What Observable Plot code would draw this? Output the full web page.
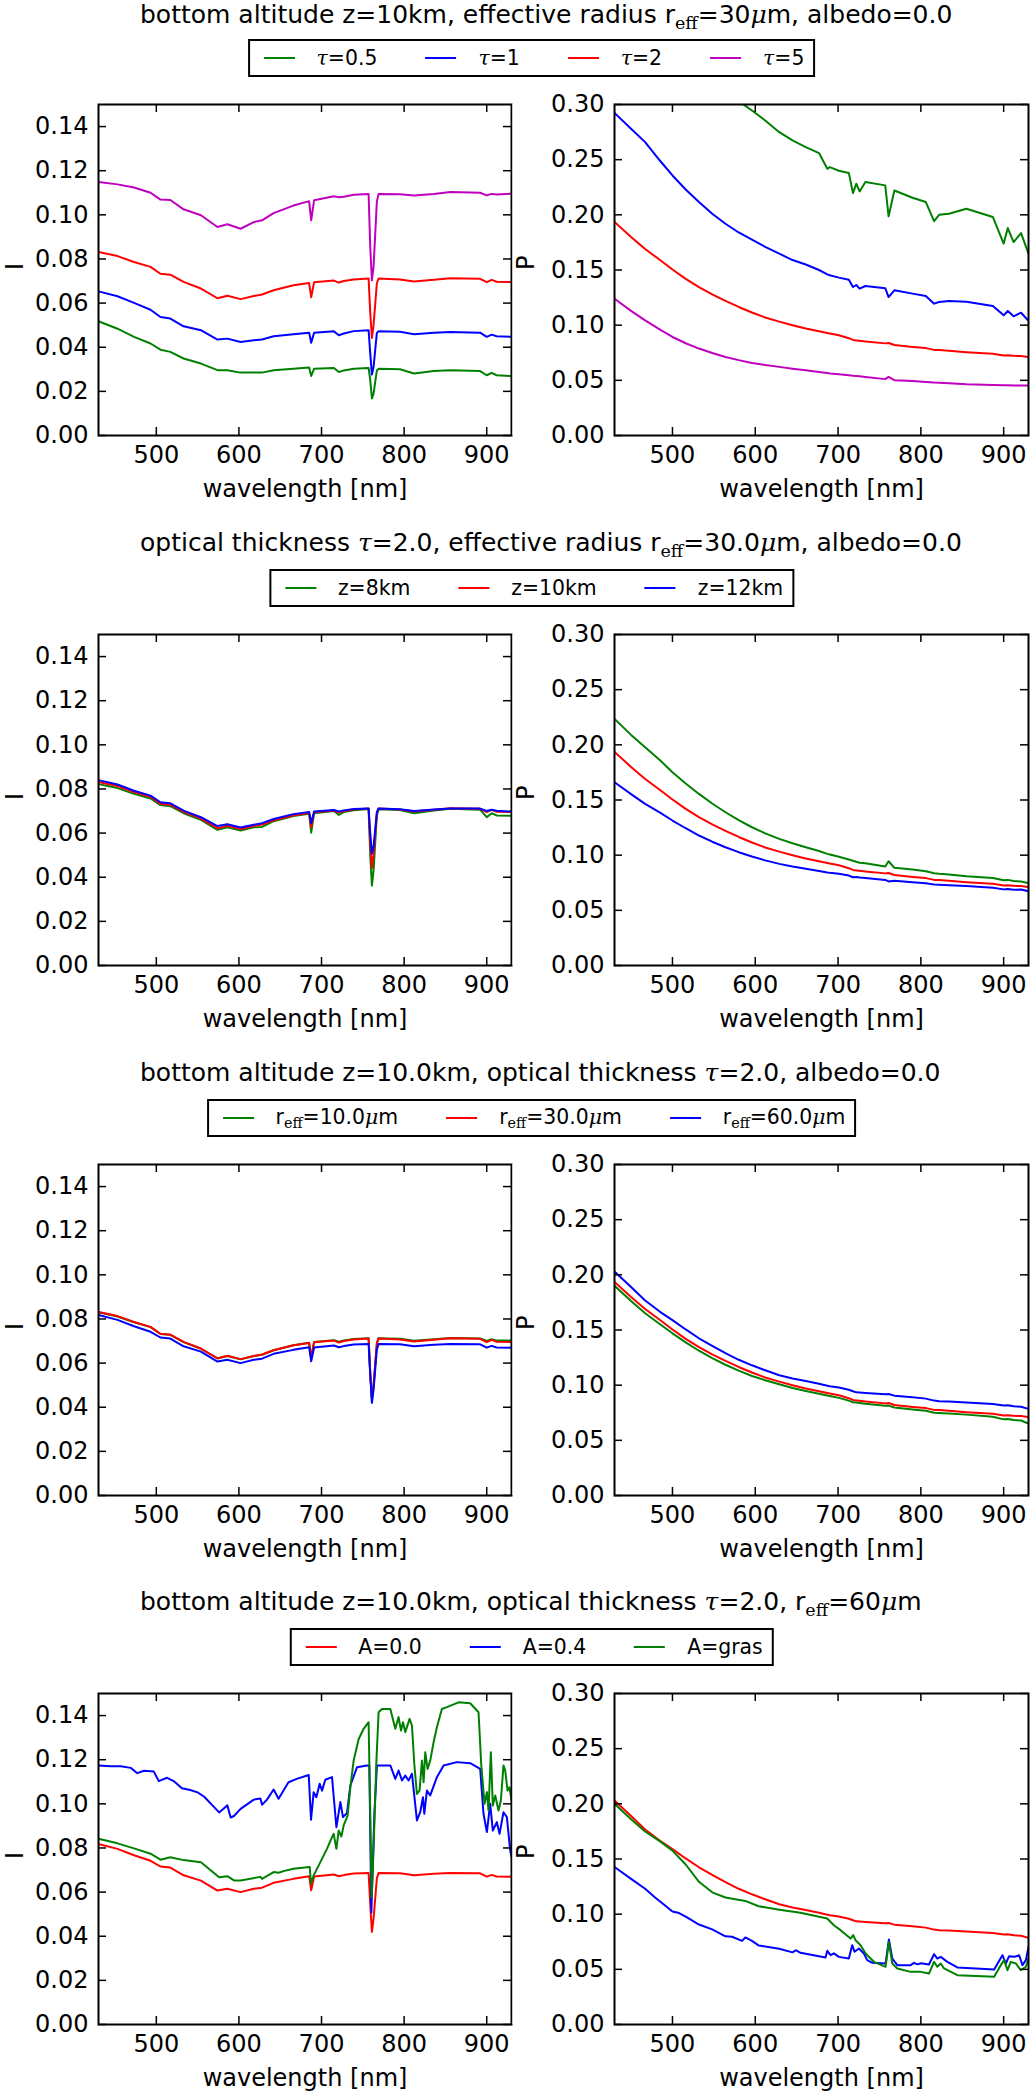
<!DOCTYPE html>
<html>
<head>
<meta charset="utf-8">
<script src="https://cdn.jsdelivr.net/npm/d3@7"></script>
<script src="https://cdn.jsdelivr.net/npm/@observablehq/plot@0.6"></script>
<style>
  html, body { margin: 0; padding: 0; background: #fff; }
  #fig { position: relative; width: 1032px; height: 2094px; overflow: hidden;
         font-family: "DejaVu Sans", sans-serif; color: #000; }
  .title { position: absolute; left: 140px; font-size: 25px; line-height: 20px; white-space: nowrap; }
  .legend { position: absolute; height: 34px; border: 2px solid #000; display: flex; align-items: center;
            padding: 0 9px 0 14px; font-size: 20.4px; line-height: 20px; white-space: nowrap;
            transform: translateX(-50%); background: #fff; }
  .entry { display: flex; align-items: center; }
  .entry + .entry { margin-left: 48px; }
  .swatch { width: 31px; height: 2px; margin-right: 22px; }
  .m { font-family: "DejaVu Serif", serif; font-style: italic; }
  .sub { font-family: "DejaVu Serif", serif; font-size: 0.7em; position: relative; top: 0.3em; }
  .panel { position: absolute; }
  .seam { position: absolute; left: 512px; width: 1px; background: #c8c8c8; }
</style>
</head>
<body>
<div id="fig"></div>
<script>
// ---------------------------------------------------------------------------
// Spectra: intensity I and degree of polarisation P versus wavelength [nm]
// ---------------------------------------------------------------------------

// common wavelength grid of the intensity spectra
const wlI = [430, 453, 473, 493, 505, 517, 533, 554, 574, 586, 602, 618, 628, 642, 666, 685, 687.5, 691,
  715, 721, 727, 739, 757, 759, 761, 763, 767, 769, 795, 812, 836, 856, 892, 900, 906, 912, 930];

// common wavelength grid of the polarisation spectra
const wlP = [430, 450, 467, 485, 500, 516, 532, 548, 564, 580, 596, 612, 629, 645, 661, 677, 687, 690,
  701, 713, 718, 722, 726, 733, 757, 761, 768, 790, 806, 816, 822, 834, 855, 887, 900, 905, 912, 921, 930];

// intensity, optical thickness series (z=10km, reff=30um, A=0)
const I_tau05 = [0.0518, 0.0484, 0.0447, 0.0417, 0.0389, 0.0379, 0.0349, 0.0326, 0.0296, 0.0296, 0.0285,
  0.0285, 0.0285, 0.0296, 0.0303, 0.0308, 0.0270, 0.0302, 0.0306, 0.0288, 0.0295, 0.0302, 0.0306, 0.0251,
  0.0168, 0.0190, 0.0295, 0.0302, 0.0300, 0.0281, 0.0292, 0.0296, 0.0292, 0.0273, 0.0284, 0.0273, 0.0269];
const I_tau1 = [0.0653, 0.0631, 0.0601, 0.0570, 0.0537, 0.0530, 0.0495, 0.0477, 0.0435, 0.0439, 0.0424,
  0.0432, 0.0435, 0.0450, 0.0459, 0.0466, 0.0420, 0.0466, 0.0472, 0.0454, 0.0462, 0.0473, 0.0477, 0.0371,
  0.0276, 0.0310, 0.0465, 0.0472, 0.0470, 0.0459, 0.0466, 0.0469, 0.0466, 0.0447, 0.0457, 0.0450, 0.0447];
const I_tau2 = [0.0832, 0.0813, 0.0786, 0.0764, 0.0733, 0.0729, 0.0696, 0.0666, 0.0622, 0.0633, 0.0618,
  0.0632, 0.0639, 0.0658, 0.0681, 0.0691, 0.0626, 0.0695, 0.0702, 0.0693, 0.0700, 0.0707, 0.0711, 0.0556,
  0.0442, 0.0500, 0.0690, 0.0711, 0.0707, 0.0698, 0.0706, 0.0713, 0.0710, 0.0695, 0.0705, 0.0697, 0.0695];
const I_tau5 = [0.1149, 0.1138, 0.1124, 0.1100, 0.1069, 0.1067, 0.1025, 0.0998, 0.0945, 0.0957, 0.0937,
  0.0967, 0.0975, 0.1008, 0.1042, 0.1062, 0.0975, 0.1066, 0.1084, 0.1080, 0.1082, 0.1091, 0.1094, 0.0854,
  0.0703, 0.0764, 0.1060, 0.1094, 0.1093, 0.1088, 0.1094, 0.1103, 0.1100, 0.1088, 0.1095, 0.1092, 0.1096];

// intensity, cloud bottom altitude series (tau=2)
const I_z8 = [0.0822, 0.0804, 0.0778, 0.0757, 0.0727, 0.0722, 0.0690, 0.0660, 0.0615, 0.0626, 0.0612,
  0.0626, 0.0628, 0.0654, 0.0677, 0.0688, 0.0602, 0.0690, 0.0700, 0.0682, 0.0695, 0.0704, 0.0709, 0.0500,
  0.0362, 0.0430, 0.0680, 0.0708, 0.0705, 0.0690, 0.0702, 0.0710, 0.0706, 0.0672, 0.0690, 0.0680, 0.0678];
const I_z12 = [0.0840, 0.0820, 0.0792, 0.0770, 0.0740, 0.0735, 0.0702, 0.0672, 0.0632, 0.0640, 0.0625,
  0.0638, 0.0645, 0.0664, 0.0686, 0.0696, 0.0645, 0.0698, 0.0705, 0.0698, 0.0703, 0.0709, 0.0712, 0.0600,
  0.0506, 0.0540, 0.0695, 0.0712, 0.0708, 0.0700, 0.0707, 0.0712, 0.0711, 0.0700, 0.0706, 0.0701, 0.0698];

// intensity, effective radius series (tau=2, z=10km)
const I_r10 = [0.0830, 0.0811, 0.0785, 0.0763, 0.0732, 0.0728, 0.0695, 0.0665, 0.0621, 0.0632, 0.0617,
  0.0632, 0.0638, 0.0658, 0.0681, 0.0692, 0.0624, 0.0696, 0.0704, 0.0697, 0.0702, 0.0709, 0.0713, 0.0550,
  0.0435, 0.0495, 0.0690, 0.0713, 0.0710, 0.0701, 0.0708, 0.0714, 0.0712, 0.0700, 0.0708, 0.0702, 0.0703];
const I_r60 = [0.0818, 0.0796, 0.0767, 0.0742, 0.0716, 0.0711, 0.0676, 0.0652, 0.0607, 0.0615, 0.0600,
  0.0615, 0.0620, 0.0642, 0.0660, 0.0672, 0.0608, 0.0671, 0.0680, 0.0672, 0.0677, 0.0684, 0.0686, 0.0545,
  0.0420, 0.0480, 0.0662, 0.0686, 0.0685, 0.0676, 0.0683, 0.0686, 0.0685, 0.0670, 0.0678, 0.0671, 0.0670];

// intensity over reflecting ground (tau=2, z=10km, reff=60um)
const wlI_A04 = [430, 445, 457, 469, 477, 485, 497, 503, 513, 521, 531, 541, 550, 558, 570, 576, 582, 586,
  590, 594, 602, 618, 626, 628, 634, 642, 648, 654, 660, 670, 684.5, 687.3, 690.5, 693.7, 697.8, 700.6,
  704.6, 712.7, 718, 722.8, 726, 730.8, 734.9, 743, 755, 757.9, 760.3, 764, 767.1, 783.3, 789.3, 793.3,
  797.4, 801.4, 805.4, 809.5, 815.5, 819.5, 822.8, 824.4, 827.6, 831.6, 839.7, 847.8, 863.9, 880, 892.1,
  896.1, 900.2, 904.2, 907.4, 912.3, 915.5, 920.3, 924.4, 928.4, 930];
const I_A04 = [0.1174, 0.1170, 0.1170, 0.1163, 0.1139, 0.1150, 0.1146, 0.1103, 0.1118, 0.1103, 0.1071,
  0.1063, 0.1052, 0.1032, 0.0985, 0.0961, 0.0980, 0.0993, 0.0938, 0.0945, 0.0977, 0.1019, 0.1024, 0.0996,
  0.1019, 0.1065, 0.1023, 0.1060, 0.1098, 0.1113, 0.1131, 0.0928, 0.1053, 0.1030, 0.1091, 0.1060, 0.1109,
  0.1121, 0.0894, 0.1008, 0.0940, 0.0958, 0.1083, 0.1166, 0.1174, 0.1174, 0.0507, 0.0955, 0.1174, 0.1174,
  0.1113, 0.1151, 0.1106, 0.1128, 0.1106, 0.1136, 0.0925, 0.0962, 0.1030, 0.0955, 0.1060, 0.1038, 0.1121,
  0.1174, 0.1189, 0.1184, 0.1158, 0.0955, 0.0872, 0.1000, 0.0879, 0.0917, 0.0864, 0.0962, 0.0940, 0.0789,
  0.0760];
const wlI_gras = [430, 453, 473, 493, 505, 517, 533, 554, 576, 586, 594, 602, 626, 628, 642, 648, 654, 666,
  685.7, 687.3, 690.5, 698.6, 706.6, 712.7, 714.7, 718, 720.8, 724, 726.8, 731.6, 734.9, 738.9, 745, 751,
  757, 759, 760.7, 763.1, 766.3, 769.1, 773.2, 783.3, 789.3, 793.3, 796.2, 798.6, 801.4, 806.6, 809.5,
  812.3, 815.5, 818.7, 821.6, 823.6, 825.6, 828.4, 831.6, 835.7, 839.7, 845.7, 851.8, 865.9, 880, 890.1,
  893.3, 897.4, 900.2, 902.2, 905, 907.4, 910.3, 914.3, 917.1, 920.3, 922.4, 925.2, 927.6, 930];
const I_gras = [0.0842, 0.0821, 0.0798, 0.0774, 0.0747, 0.0758, 0.0745, 0.0735, 0.0667, 0.0672, 0.0653,
  0.0653, 0.0669, 0.0660, 0.0691, 0.0688, 0.0695, 0.0706, 0.0714, 0.0638, 0.0676, 0.0736, 0.0796, 0.0849,
  0.0864, 0.0796, 0.0879, 0.0852, 0.0902, 0.0947, 0.1075, 0.1196, 0.1294, 0.1340, 0.1370, 0.0955, 0.0577,
  0.0804, 0.1181, 0.1415, 0.1430, 0.1430, 0.1340, 0.1393, 0.1332, 0.1370, 0.1325, 0.1385, 0.1355, 0.1181,
  0.1045, 0.1060, 0.1196, 0.1098, 0.1234, 0.1158, 0.1196, 0.1279, 0.1347, 0.1430, 0.1438, 0.1460, 0.1456,
  0.1415, 0.1181, 0.1000, 0.1053, 0.0970, 0.1234, 0.0992, 0.1038, 0.0970, 0.1015, 0.1174, 0.1151, 0.1060,
  0.1075, 0.1015];

// polarisation, optical thickness series
const P_tau05 = [0.452, 0.425, 0.404, 0.381, 0.364, 0.348, 0.334, 0.321, 0.311, 0.303, 0.2946, 0.2855,
  0.2749, 0.2674, 0.2614, 0.2560, 0.2417, 0.2432, 0.2400, 0.2380, 0.2197, 0.2282, 0.2212, 0.2297, 0.2267,
  0.1986, 0.2221, 0.2155, 0.2116, 0.1943, 0.2000, 0.2010, 0.2055, 0.1980, 0.1739, 0.1880, 0.1753, 0.1835,
  0.1648];
const P_tau1 = [0.2924, 0.2780, 0.2659, 0.2490, 0.2357, 0.2230, 0.2116, 0.2010, 0.1919, 0.1840, 0.1775,
  0.1710, 0.1648, 0.1590, 0.1550, 0.1500, 0.1460, 0.1452, 0.1431, 0.1412, 0.1346, 0.1364, 0.1331, 0.1355,
  0.1335, 0.1255, 0.1316, 0.1286, 0.1265, 0.1195, 0.1210, 0.1219, 0.1212, 0.1174, 0.1089, 0.1128, 0.1080,
  0.1113, 0.1040];
const P_tau2 = [0.1936, 0.1800, 0.1690, 0.1590, 0.1505, 0.1420, 0.1345, 0.1280, 0.1220, 0.1165, 0.1115,
  0.1070, 0.1032, 0.1000, 0.0970, 0.0944, 0.0929, 0.0925, 0.0908, 0.0882, 0.0866, 0.0862, 0.0858, 0.0852,
  0.0835, 0.0838, 0.0820, 0.0803, 0.0792, 0.0776, 0.0774, 0.0768, 0.0755, 0.0740, 0.0726, 0.0728, 0.0722,
  0.0720, 0.0712];
const P_tau5 = [0.1240, 0.1130, 0.1044, 0.0960, 0.0893, 0.0836, 0.0788, 0.0748, 0.0712, 0.0683, 0.0658,
  0.0639, 0.0622, 0.0606, 0.0592, 0.0576, 0.0566, 0.0563, 0.0555, 0.0545, 0.0541, 0.0539, 0.0536, 0.0530,
  0.0511, 0.0531, 0.0501, 0.0494, 0.0486, 0.0481, 0.0479, 0.0474, 0.0465, 0.0458, 0.0456, 0.0455, 0.0454,
  0.0453, 0.0453];

// polarisation, cloud bottom altitude series
const P_z8 = [0.2235, 0.2090, 0.1978, 0.1860, 0.1752, 0.1650, 0.1555, 0.1468, 0.1389, 0.1318, 0.1253,
  0.1198, 0.1148, 0.1108, 0.1072, 0.1038, 0.1012, 0.1006, 0.0985, 0.0960, 0.0950, 0.0940, 0.0932, 0.0927,
  0.0897, 0.0945, 0.0885, 0.0870, 0.0855, 0.0836, 0.0831, 0.0825, 0.0809, 0.0793, 0.0772, 0.0776, 0.0765,
  0.0762, 0.0746];
const P_z12 = [0.1661, 0.1553, 0.1465, 0.1385, 0.1314, 0.1244, 0.1178, 0.1122, 0.1072, 0.1027, 0.0988,
  0.0953, 0.0921, 0.0897, 0.0876, 0.0856, 0.0843, 0.0840, 0.0831, 0.0815, 0.0800, 0.0802, 0.0798, 0.0794,
  0.0776, 0.0762, 0.0768, 0.0755, 0.0745, 0.0735, 0.0733, 0.0728, 0.0720, 0.0705, 0.0690, 0.0694, 0.0686,
  0.0688, 0.0673];

// polarisation, effective radius series
const P_r10 = [0.1901, 0.1762, 0.1652, 0.1552, 0.1470, 0.1388, 0.1312, 0.1245, 0.1185, 0.1132, 0.1083,
  0.1045, 0.1008, 0.0975, 0.0948, 0.0922, 0.0906, 0.0902, 0.0885, 0.0860, 0.0845, 0.0842, 0.0838, 0.0832,
  0.0813, 0.0815, 0.0798, 0.0780, 0.0768, 0.0750, 0.0748, 0.0743, 0.0733, 0.0713, 0.0690, 0.0693, 0.0684,
  0.0680, 0.0651];
const P_r60 = [0.2030, 0.1890, 0.1767, 0.1665, 0.1590, 0.1505, 0.1425, 0.1357, 0.1290, 0.1230, 0.1180,
  0.1135, 0.1090, 0.1060, 0.1037, 0.1012, 0.0995, 0.0990, 0.0978, 0.0958, 0.0945, 0.0935, 0.0933, 0.0930,
  0.0917, 0.0920, 0.0905, 0.0890, 0.0878, 0.0860, 0.0855, 0.0852, 0.0843, 0.0830, 0.0815, 0.0818, 0.0808,
  0.0805, 0.0785];

// polarisation over reflecting ground
const wlP_A04 = [430, 450, 467, 479, 490, 500, 508, 516, 532, 548, 564, 572, 584, 588, 596, 604, 629, 645,
  649, 654.6, 684.9, 687, 690.9, 694.9, 701, 713, 717.1, 719.9, 725.2, 731.2, 735.2, 741.3, 757.4, 761.4,
  765.5, 771.5, 787.7, 791.7, 796, 800, 809.8, 815.9, 819.9, 824, 832, 844.1, 888.5, 898.5, 902.6, 906.6,
  912.7, 918.7, 922.7, 926.8, 930];
const P_A04 = [0.1428, 0.1320, 0.1230, 0.1151, 0.1085, 0.1025, 0.1010, 0.0978, 0.0906, 0.0862, 0.0799,
  0.0795, 0.0758, 0.0789, 0.0758, 0.0717, 0.0686, 0.0654, 0.0673, 0.0650, 0.0607, 0.0668, 0.0628, 0.0645,
  0.0613, 0.0598, 0.0719, 0.0659, 0.0689, 0.0644, 0.0583, 0.0559, 0.0553, 0.0770, 0.0598, 0.0538, 0.0538,
  0.0559, 0.0545, 0.0555, 0.0544, 0.0637, 0.0598, 0.0613, 0.0568, 0.0517, 0.0498, 0.0628, 0.0553, 0.0619,
  0.0613, 0.0628, 0.0538, 0.0583, 0.0704];
const wlP_gras = [430, 450, 467, 485, 500, 516, 532, 548, 564, 588, 604, 629, 654.6, 686.9, 694.9, 703,
  715.1, 718.3, 721.1, 727.2, 733.2, 743.3, 757.4, 761.4, 765.5, 771.5, 787.7, 799.8, 809.8, 815.9, 819.9,
  824, 828, 844.1, 888.5, 896.5, 900.6, 904.6, 908.6, 914.7, 920.7, 926.8, 930];
const P_gras = [0.2000, 0.1860, 0.1749, 0.1660, 0.1576, 0.1450, 0.1293, 0.1198, 0.1151, 0.1120, 0.1072,
  0.1041, 0.1012, 0.0961, 0.0900, 0.0855, 0.0779, 0.0810, 0.0764, 0.0719, 0.0644, 0.0568, 0.0523, 0.0749,
  0.0553, 0.0508, 0.0477, 0.0477, 0.0462, 0.0568, 0.0523, 0.0553, 0.0508, 0.0447, 0.0432, 0.0538, 0.0583,
  0.0492, 0.0568, 0.0553, 0.0492, 0.0523, 0.0598];

// axis ticks
const xTicks = [500, 600, 700, 800, 900];
const yTicksI = [0, 0.02, 0.04, 0.06, 0.08, 0.10, 0.12, 0.14];
const yTicksP = [0, 0.05, 0.10, 0.15, 0.20, 0.25, 0.30];

// line colours
const GREEN = "#008000", BLUE = "#0000ff", RED = "#ff0000", MAGENTA = "#bf00bf";

// row titles and legend entries
const titles = [
  'bottom altitude z=10km, effective radius r<span class="sub">eff</span>=30<span class="m">μ</span>m, albedo=0.0',
  'optical thickness <span class="m">τ</span>=2.0, effective radius r<span class="sub">eff</span>=30.0<span class="m">μ</span>m, albedo=0.0',
  'bottom altitude z=10.0km, optical thickness <span class="m">τ</span>=2.0, albedo=0.0',
  'bottom altitude z=10.0km, optical thickness <span class="m">τ</span>=2.0, r<span class="sub">eff</span>=60<span class="m">μ</span>m'
];
const legendTau = ['<span class="m">τ</span>=0.5', '<span class="m">τ</span>=1', '<span class="m">τ</span>=2', '<span class="m">τ</span>=5'];
const legendZ = ["z=8km", "z=10km", "z=12km"];
const legendR = ['r<span class="sub">eff</span>=10.0<span class="m">μ</span>m',
                 'r<span class="sub">eff</span>=30.0<span class="m">μ</span>m',
                 'r<span class="sub">eff</span>=60.0<span class="m">μ</span>m'];
const legendA = ["A=0.0", "A=0.4", "A=gras"];

// ---------------------------------------------------------------------------
const rows = [
  { title: titles[0],
    legend: [[legendTau[0], GREEN], [legendTau[1], BLUE], [legendTau[2], RED], [legendTau[3], MAGENTA]],
    I: [[wlI, I_tau05, GREEN], [wlI, I_tau1, BLUE], [wlI, I_tau2, RED], [wlI, I_tau5, MAGENTA]],
    P: [[wlP, P_tau05, GREEN], [wlP, P_tau1, BLUE], [wlP, P_tau2, RED], [wlP, P_tau5, MAGENTA]] },
  { title: titles[1],
    legend: [[legendZ[0], GREEN], [legendZ[1], RED], [legendZ[2], BLUE]],
    I: [[wlI, I_z8, GREEN], [wlI, I_tau2, RED], [wlI, I_z12, BLUE]],
    P: [[wlP, P_z8, GREEN], [wlP, P_tau2, RED], [wlP, P_z12, BLUE]] },
  { title: titles[2],
    legend: [[legendR[0], GREEN], [legendR[1], RED], [legendR[2], BLUE]],
    I: [[wlI, I_r10, GREEN], [wlI, I_tau2, RED], [wlI, I_r60, BLUE]],
    P: [[wlP, P_r10, GREEN], [wlP, P_tau2, RED], [wlP, P_r60, BLUE]] },
  { title: titles[3],
    legend: [[legendA[0], RED], [legendA[1], BLUE], [legendA[2], GREEN]],
    I: [[wlI, I_r60, RED], [wlI_A04, I_A04, BLUE], [wlI_gras, I_gras, GREEN]],
    P: [[wlP, P_r60, RED], [wlP_A04, P_A04, BLUE], [wlP_gras, P_gras, GREEN]] }
];

const frameTops = [104, 634, 1164, 1693];
const fig = document.getElementById("fig");

const H = 421, MT = 20, MB = 70, FRAME_H = H - MT - MB;
const TICK = 8;
// baseline of a 25px title inside its 20px line box
const TITLE_BASE = 18.65;

function panel(series, yDomain, yTicks, ylabel, labelDx, width, mLeft, mRight) {
  const frameW = width - mLeft - mRight;
  const tickStyle = { stroke: "#000", strokeWidth: 1.5 };
  return Plot.plot({
    width, height: H,
    marginLeft: mLeft, marginRight: mRight, marginTop: MT, marginBottom: MB,
    style: { fontFamily: "DejaVu Sans, sans-serif", fontSize: "24px", color: "#000",
             background: "transparent", overflow: "visible" },
    x: { domain: [430, 930] },
    y: { domain: yDomain },
    marks: [
      ...series.map(([wl, vals, color]) =>
        Plot.line(wl.map((w, i) => ({ w, v: vals[i] })),
                  { x: "w", y: "v", stroke: color, strokeWidth: 2, clip: true })),
      // inward ticks on all four sides
      Plot.tickX(xTicks, { x: d => d, insetTop: FRAME_H - TICK, ...tickStyle }),
      Plot.tickX(xTicks, { x: d => d, insetBottom: FRAME_H - TICK, ...tickStyle }),
      Plot.tickY(yTicks, { y: d => d, insetRight: frameW - TICK, ...tickStyle }),
      Plot.tickY(yTicks, { y: d => d, insetLeft: frameW - TICK, ...tickStyle }),
      Plot.frame({ stroke: "#000", strokeWidth: 2 }),
      Plot.axisX({ ticks: xTicks, tickSize: 0, tickPadding: 10, label: null, tickFormat: d => String(d) }),
      Plot.axisY({ ticks: yTicks, tickSize: 0, tickPadding: 10, label: null, tickFormat: d3.format(".2f") }),
      Plot.text(["wavelength [nm]"], { text: d => d, frameAnchor: "bottom", lineAnchor: "top", dy: 44 }),
      Plot.text([ylabel], { text: d => d, frameAnchor: "left", rotate: -90, dx: labelDx })
    ]
  });
}

rows.forEach((row, k) => {
  const top = frameTops[k];

  const t = document.createElement("div");
  t.className = "title";
  const baseline = Math.max(top - 82, 24);
  t.style.top = (baseline - TITLE_BASE) + "px";
  t.innerHTML = row.title;
  fig.appendChild(t);

  const lg = document.createElement("div");
  lg.className = "legend";
  lg.style.top = (top - 65) + "px";
  lg.style.left = "531.5px";
  lg.innerHTML = row.legend.map(([label, color]) =>
    `<div class="entry"><div class="swatch" style="background:${color}"></div><span>${label}</span></div>`).join("");
  fig.appendChild(lg);

  const left = panel(row.I, [0, 0.15], yTicksI, "I", -83, 512, 98, 1);
  left.classList.add("panel");
  left.style.left = "0px";
  left.style.top = (top - MT) + "px";
  fig.appendChild(left);

  // thin grey seam between the two panels of a row
  const seam = document.createElement("div");
  seam.className = "seam";
  seam.style.top = top + "px";
  seam.style.height = FRAME_H + "px";
  fig.appendChild(seam);

  const right = panel(row.P, [0, 0.30], yTicksP, "P", -88, 520, 102, 4);
  right.classList.add("panel");
  right.style.left = "512px";
  right.style.top = (top - MT) + "px";
  fig.appendChild(right);
});
</script>
</body>
</html>
